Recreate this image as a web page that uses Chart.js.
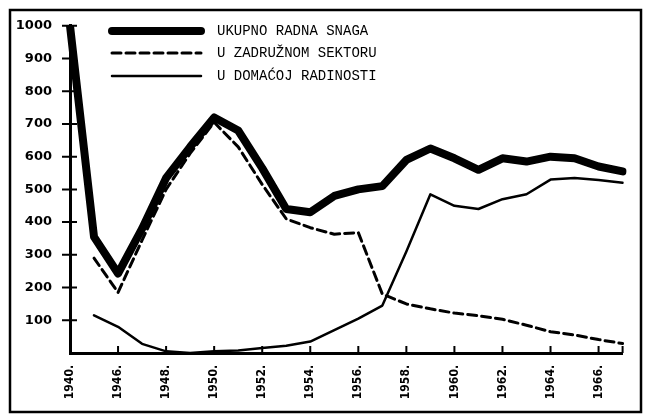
<!DOCTYPE html>
<html>
<head>
<meta charset="utf-8">
<script src="https://cdn.jsdelivr.net/npm/chart.js@4"></script>
<style>
  html, body { margin: 0; padding: 0; background: #fff; overflow: hidden; }
  #wrap { position: relative; width: 649px; height: 418px; }
</style>
</head>
<body>
<div id="wrap"><canvas id="chart"></canvas></div>
<script>
// years on the x axis (1940 then 1945..1967)
const years = ["1940.", "1945.", "1946.", "1947.", "1948.", "1949.", "1950.", "1951.", "1952.", "1953.", "1954.", "1955.",
  "1956.", "1957.", "1958.", "1959.", "1960.", "1961.", "1962.", "1963.", "1964.", "1965.", "1966.", "1967."];

// ukupno radna snaga
const ukupno = [1000, 355, 243, 380, 535, 630, 720, 680, 565, 440, 430, 480,
  500, 510, 590, 625, 595, 560, 595, 585, 600, 595, 570, 555];

// u zadruznom sektoru
const zadruzni = [null, 290, 185, 345, 500, 610, 705, 630, 515, 410, 383, 363,
  368, 180, 150, 135, 122, 114, 103, 85, 65, 55, 41, 29];

// u domacoj radinosti
const radinost = [null, 115, 80, 28, 5, 0, 5, 8, 15, 22, 35, 70,
  105, 145, 310, 485, 450, 440, 470, 485, 530, 535, 529, 520];

const yTicks = [0, 100, 200, 300, 400, 500, 600, 700, 800, 900, 1000];
const legendLabels = ["UKUPNO RADNA SNAGA", "U ZADRUŽNOM SEKTORU", "U DOMAĆOJ RADINOSTI"];

const shownYear = (i) => i % 2 === 0 && i < years.length - 1;

// small cross ticks on both axes
const tickMarks = {
  id: "tickMarks",
  afterDraw(chart) {
    const { ctx, scales: { x, y }, chartArea } = chart;
    ctx.save();
    ctx.strokeStyle = "#000";
    ctx.lineWidth = 2;
    ctx.beginPath();
    yTicks.forEach((v) => {
      if (v === 0) return;
      const py = y.getPixelForValue(v);
      ctx.moveTo(chartArea.left - 8, py);
      ctx.lineTo(chartArea.left + 7, py);
    });
    years.forEach((label, i) => {
      if (!(shownYear(i) || i === years.length - 1) || i === 0) return;
      const px = x.getPixelForValue(i);
      ctx.moveTo(px, chartArea.bottom);
      ctx.lineTo(px, chartArea.bottom - 7);
    });
    ctx.stroke();
    ctx.restore();
  },
};

// legend drawn inside the plot, top left
const insideLegend = {
  id: "insideLegend",
  afterDraw(chart) {
    const ctx = chart.ctx;
    const rows = [31, 53, 76];
    ctx.save();
    chart.data.datasets.forEach((ds, i) => {
      const yy = rows[i];
      ctx.strokeStyle = "#000";
      ctx.lineWidth = ds.borderWidth;
      ctx.lineCap = "round";
      ctx.setLineDash(ds.borderDash || []);
      ctx.beginPath();
      ctx.moveTo(112, yy);
      ctx.lineTo(201, yy);
      ctx.stroke();
      ctx.setLineDash([]);
      ctx.fillStyle = "#000";
      ctx.font = "14px 'Liberation Mono'";
      ctx.textBaseline = "middle";
      ctx.fillText(ds.label, 217, yy);
    });
    // frame around the whole figure
    ctx.lineWidth = 2.5;
    ctx.strokeRect(10, 10, 631, 402);
    ctx.restore();
  },
};

new Chart(document.getElementById("chart"), {
  type: "line",
  data: {
    labels: years,
    datasets: [
      { label: legendLabels[0], data: ukupno, borderColor: "#000", borderWidth: 8 },
      { label: legendLabels[1], data: zadruzni, borderColor: "#000", borderWidth: 3, borderDash: [9, 5] },
      { label: legendLabels[2], data: radinost, borderColor: "#000", borderWidth: 2.5 },
    ],
  },
  options: {
    responsive: true,
    maintainAspectRatio: false,
    animation: false,
    events: [],
    layout: { padding: { left: 10, right: 21, top: 23, bottom: 10 } },
    elements: {
      point: { radius: 0 },
      line: { tension: 0, borderJoinStyle: "round", borderCapStyle: "round", fill: false },
    },
    plugins: {
      legend: { display: false },
      tooltip: { enabled: false },
    },
    scales: {
      x: {
        offset: false,
        grid: { display: false, drawTicks: false },
        border: { display: true, color: "#000", width: 3 },
        afterFit: (s) => { s.height = 55; },
        ticks: {
          autoSkip: false,
          maxRotation: 90,
          minRotation: 90,
          padding: 12,
          color: "#000",
          font: { family: "'DejaVu Sans Condensed', 'DejaVu Sans'", size: 12, weight: "bold" },
          callback: (v, i) => (shownYear(i) ? years[i] : ""),
        },
      },
      y: {
        min: 0,
        max: 1000,
        grid: { display: false, drawTicks: false },
        border: { display: true, color: "#000", width: 3 },
        afterFit: (s) => { s.width = 60; },
        afterBuildTicks: (s) => { s.ticks = yTicks.map((v) => ({ value: v })); },
        ticks: {
          padding: 18,
          color: "#000",
          font: { family: "'DejaVu Sans'", size: 13, weight: "bold" },
          callback: (v) => (v === 0 ? "" : String(v)),
        },
      },
    },
  },
  plugins: [tickMarks, insideLegend],
});
</script>
</body>
</html>
